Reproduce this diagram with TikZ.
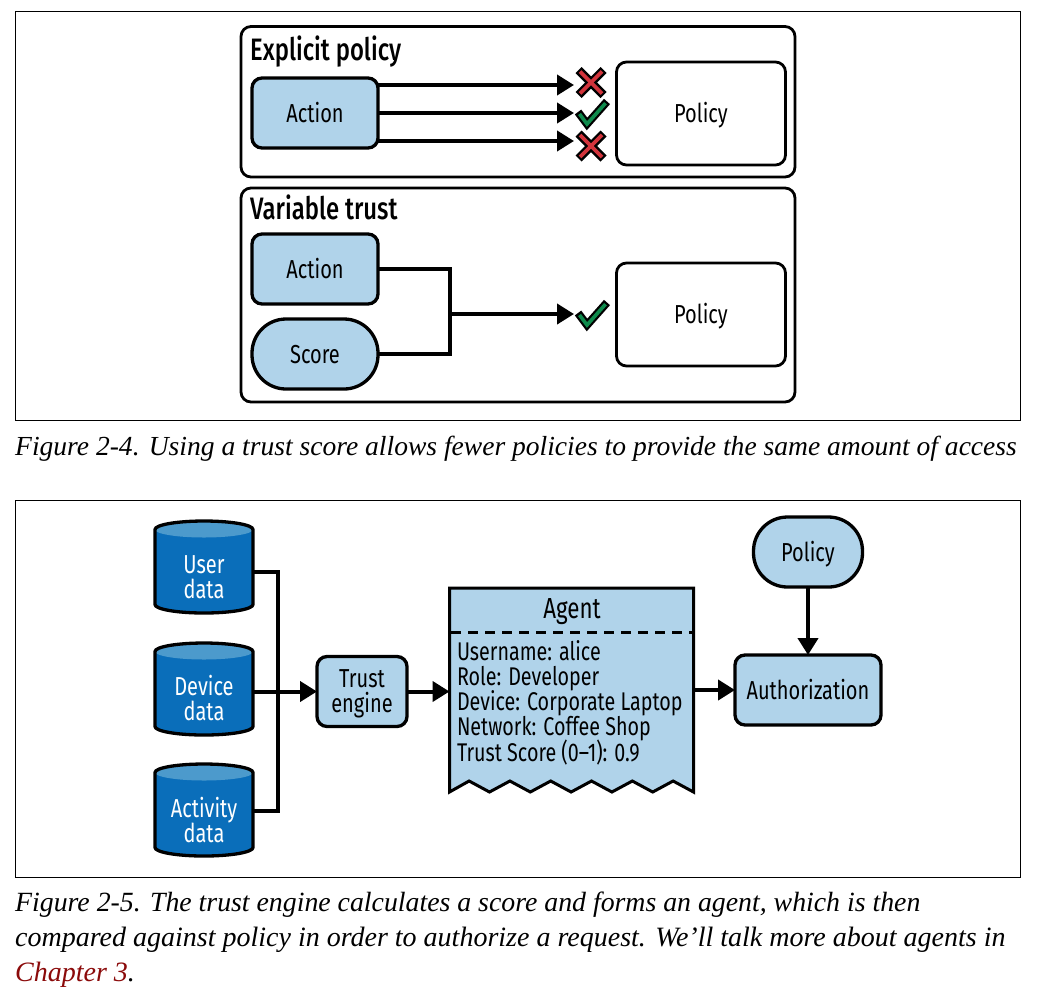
\documentclass[tikz,border=0pt]{standalone}
\usepackage{fontspec}
\usetikzlibrary{arrows.meta,calc}
\setmainfont{Liberation Serif}
\newfontfamily\diagfont[FakeStretch=0.77]{Fira Sans}
\newfontfamily\diagbold[FakeStretch=0.77]{Fira Sans Medium}
\definecolor{boxblue}{HTML}{B0D3EA}
\definecolor{cyldark}{HTML}{0A6EBA}
\definecolor{cyllight}{HTML}{4C9ACC}
\definecolor{xred}{HTML}{D2343C}
\definecolor{okgreen}{HTML}{0E8A4C}
\definecolor{linkred}{HTML}{8B0A0A}
\tikzset{
  x=1pt,y=-1pt,
  frame/.style={draw=black,line width=0.8pt,fill=none},
  group/.style={draw=black,line width=2.8pt,rounded corners=10pt,fill=white},
  bluebox/.style={draw=black,line width=3.3pt,fill=boxblue,rounded corners=10pt,minimum width=126pt,minimum height=70pt,inner sep=0pt,outer sep=0pt,font=\diagfont\fontsize{26}{25}\selectfont,align=center},
  oneline/.style={text height=24pt,text depth=6pt},
  stadium/.style={bluebox,rounded corners=34pt},
  policybox/.style={draw=black,line width=2.8pt,fill=white,rounded corners=10pt,minimum width=169pt,minimum height=103pt,inner sep=0pt,outer sep=0pt,font=\diagfont\fontsize{26}{25}\selectfont,oneline},
  storelabel/.style={inner sep=0pt,outer sep=0pt,minimum width=100pt,minimum height=75pt,text=white,font=\diagfont\fontsize{26}{25}\selectfont,align=center},
  storeedge/.style={draw=black,line width=3.3pt},
  wire/.style={draw=black,line width=4pt,line join=miter},
  arrowwire/.style={wire,-{Triangle[length=17pt,width=20pt]}},
  spot/.style={inner sep=0pt,outer sep=0pt,minimum width=34pt,minimum height=28pt},
  title/.style={anchor=base west,inner sep=0pt,font=\diagbold\fontsize{31}{30}\selectfont},
  caption/.style={anchor=base west,inner sep=0pt,font=\itshape\fontsize{27.6}{30}\selectfont},
  plaintext/.style={inner sep=0pt,outer sep=0pt,font=\diagfont\fontsize{25.6}{25.25}\selectfont,align=left},
}
\newcommand{\drawCross}[1]{%
  \draw[black,line width=8.5pt] ($(#1)+(-12.5,-12.5)$) -- ($(#1)+(12.5,12.5)$);
  \draw[black,line width=8.5pt] ($(#1)+(-12.5,12.5)$) -- ($(#1)+(12.5,-12.5)$);
  \draw[xred,line width=3.8pt] ($(#1)+(-11,-11)$) -- ($(#1)+(11,11)$);
  \draw[xred,line width=3.8pt] ($(#1)+(-11,11)$) -- ($(#1)+(11,-11)$);
}
\newcommand{\drawCheck}[1]{%
  \draw[black,line width=8pt,line join=miter] ($(#1)+(-15,-1)$) -- ($(#1)+(-6,11)$) -- ($(#1)+(14,-11.5)$);
  \draw[okgreen,line width=3.6pt,line join=miter] ($(#1)+(-13.5,1)$) -- ($(#1)+(-6,11)$) -- ($(#1)+(12.5,-9.8)$);
}
% name, top y, label centre offset, label
\newcommand{\drawStore}[4]{%
  \fill[cyldark] (155,#2+10) arc[start angle=180,end angle=0,x radius=49pt,y radius=8.5pt]
     -- (253,#2+85) arc[start angle=0,end angle=-180,x radius=49pt,y radius=8.5pt] -- cycle;
  \fill[cyllight] (204,#2+10) ellipse[x radius=49pt,y radius=8pt];
  \draw[storeedge] (155,#2+10) arc[start angle=180,end angle=0,x radius=49pt,y radius=8.5pt]
     -- (253,#2+85) arc[start angle=0,end angle=-180,x radius=49pt,y radius=8.5pt] -- cycle;
  \node[storelabel] (#1) at (204,#2+#3) {#4};
}
\begin{document}
\lineskiplimit=-100pt
\begin{tikzpicture}
\useasboundingbox (0,0) rectangle (1040,1005);
\fill[white] (0,0) rectangle (1040,1005);
% frames
\draw[frame] (15,11) rectangle (1020.5,420);
\draw[frame] (15,500) rectangle (1020.5,877);
% Figure 2-4
\draw[group] (241,26.5) rectangle (795,177);
\draw[group] (241,188) rectangle (795,402);
\node[title] (t1) at (250,60) {Explicit policy};
\node[title] (t2) at (250,219.5) {Variable trust};
\node[bluebox,oneline] (act1) at (315,113) {Action};
\node[policybox] (pol1) at (701,113.5) {Policy};
\node[spot] (x1) at (591,82.5) {};
\node[spot] (ck1) at (593,113) {};
\node[spot] (x2) at (591,146) {};
\coordinate (e1) at (574,85);
\coordinate (e2) at (574,113);
\coordinate (e3) at (574,141);
\draw[arrowwire] (act1.east |- e1) -- (e1);
\draw[arrowwire] (act1.east |- e2) -- (e2);
\draw[arrowwire] (act1.east |- e3) -- (e3);
\drawCross{x1}
\drawCheck{ck1}
\drawCross{x2}
\node[bluebox,oneline] (act2) at (315,269) {Action};
\node[stadium,oneline] (score) at (315,354) {Score};
\node[policybox] (pol2) at (701,314.5) {Policy};
\node[spot] (ck2) at (593,314) {};
\coordinate (mg) at (450,314);
\coordinate (e4) at (574,314);
\draw[wire] (act2.east) -| (mg);
\draw[wire] (score.east) -| (mg);
\draw[arrowwire] (mg) -- (e4);
\drawCheck{ck2}
% Figure 2-5
\drawStore{user}{519.5}{58}{User\\data}
\drawStore{device}{641.5}{56.5}{Device\\data}
\drawStore{activity}{762.5}{57}{Activity\\data}
\node[bluebox,minimum width=90pt,minimum height=70pt] (trust) at (362,691.5) {\rule{0pt}{22pt}Trust\\engine};
\coordinate (jn) at (278,691.5);
\draw[wire] ([yshift=5.5pt]user.east) -| (jn);
\draw[wire] ([yshift=9pt]activity.east) -| (jn);
\draw[arrowwire] (device.east |- jn) -- (trust.west);
% agent
\node[inner sep=0pt,outer sep=0pt,minimum width=244pt,minimum height=204pt] (agent) at (571.5,690) {};
\draw[draw=black,line width=3pt,fill=boxblue,line join=miter]
  (agent.north west) -- (agent.north east) -- (agent.south east)
  -- ++(-20.4,-11) -- ++(-20.4,11) -- ++(-20.4,-11) -- ++(-20.4,11)
  -- ++(-20.4,-11) -- ++(-20.4,11) -- ++(-20.4,-11) -- ++(-20.4,11)
  -- ++(-20.4,-11) -- ++(-20.4,11) -- ++(-20.4,-11) -- (agent.south west) -- cycle;
\draw[black,line width=2.6pt,dash pattern=on 10pt off 7pt] (451,632.5) -- (692,632.5);
\node[plaintext,font=\diagfont\fontsize{29}{30}\selectfont] (agenttitle) at (572,612) {Agent};
\node[plaintext,anchor=west] (agentbody) at (457,702.5) {Username: alice\\Role: Developer\\Device: Corporate Laptop\\Network: Coffee Shop\\Trust Score (0–1): 0.9};
\draw[arrowwire] (trust.east) -- (agent.west |- trust.east);
\node[bluebox,oneline,minimum width=146pt,minimum height=70pt] (auth) at (808,690) {Authorization};
\node[stadium,oneline,minimum width=109pt,minimum height=70pt] (policy) at (808,552) {Policy};
\draw[arrowwire] (agent.east |- auth.west) -- (auth.west);
\draw[arrowwire] (policy.south) -- (auth.north);
% captions
\node[caption,font=\itshape\fontsize{27.55}{30}\selectfont] (c1) at (15,455) {Figure 2-4. Using a trust score allows fewer policies to provide the same amount of access};
\node[caption,font=\itshape\fontsize{27.8}{30}\selectfont] (c2) at (15,911) {Figure 2-5. The trust engine calculates a score and forms an agent, which is then};
\node[caption,font=\itshape\fontsize{28}{30}\selectfont] (c3) at (15,946) {compared against policy in order to authorize a request. We’ll talk more about agents in};
\node[caption,font=\itshape\fontsize{28}{30}\selectfont] (c4) at (15,981) {\textcolor{linkred}{Chapter 3}.};
\end{tikzpicture}
\end{document}
